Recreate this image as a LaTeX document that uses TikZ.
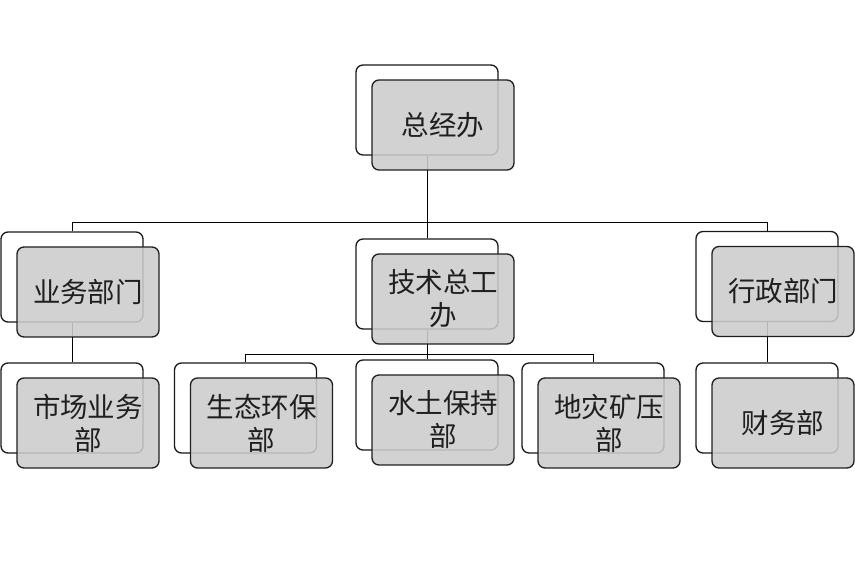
\documentclass[tikz,border=0pt]{standalone}
\usepackage{fontspec}
\newfontfamily\cjk{Noto Sans CJK SC}
\begin{document}
\begin{tikzpicture}[x=1pt,y=-1pt,
  backbox/.style={draw=black!90, line width=1.3pt, rounded corners=7pt, fill=white,
    minimum width=142pt, minimum height=90pt, inner sep=0pt},
  frontbox/.style={draw=black!88, line width=1.3pt, rounded corners=7pt, fill=black!20,
    fill opacity=0.88, text opacity=1, draw opacity=1, minimum width=142pt, minimum height=90pt,
    align=center, inner sep=0pt, font=\cjk\fontsize{27.5}{33}\selectfont, text=black!88},
  conn/.style={line width=1pt, draw=black}]
\useasboundingbox (0,0) rectangle (855,569);
\coordinate (bus1) at (0,223);
\coordinate (bus2) at (0,355);
% back boxes
\node[backbox] (zjb-b) at (427,110) {};
\node[backbox] (ywb-b) at (72,277) {};
\node[backbox] (jsb-b) at (427,284) {};
\node[backbox] (xzb-b) at (767,276.5) {};
\node[backbox] (scb-b) at (72,408) {};
\node[backbox] (stb-b) at (245.5,408) {};
\node[backbox] (sbb-b) at (427,405) {};
\node[backbox] (dzb-b) at (593,408) {};
\node[backbox] (cwb-b) at (767,408) {};
% connectors
\draw[conn] (zjb-b.south) -- (zjb-b.south |- bus1) -| (ywb-b.north);
\draw[conn] (zjb-b.south |- bus1) -| (xzb-b.north);
\draw[conn] (zjb-b.south |- bus1) -- (jsb-b.north);
\draw[conn] (ywb-b.south) -- (scb-b.north);
\draw[conn] (xzb-b.south) -- (cwb-b.north);
\draw[conn] (jsb-b.south) -- (jsb-b.south |- bus2) -| (stb-b.north);
\draw[conn] (jsb-b.south |- bus2) -| (dzb-b.north);
\draw[conn] (jsb-b.south |- bus2) -- (sbb-b.north);
% front boxes
\node[frontbox] (zjb-f) at ([shift={(16,15)}]zjb-b.center) {总经办};
\node[frontbox] (ywb-f) at ([shift={(16,15)}]ywb-b.center) {业务部门};
\node[frontbox] (jsb-f) at ([shift={(16,15)}]jsb-b.center) {技术总工\\办};
\node[frontbox] (xzb-f) at ([shift={(16,15)}]xzb-b.center) {行政部门};
\node[frontbox] (scb-f) at ([shift={(16,15)}]scb-b.center) {市场业务\\部};
\node[frontbox] (stb-f) at ([shift={(16,15)}]stb-b.center) {生态环保\\部};
\node[frontbox] (sbb-f) at ([shift={(16,15)}]sbb-b.center) {水土保持\\部};
\node[frontbox] (dzb-f) at ([shift={(16,15)}]dzb-b.center) {地灾矿压\\部};
\node[frontbox] (cwb-f) at ([shift={(16,15)}]cwb-b.center) {财务部};
\end{tikzpicture}
\end{document}
